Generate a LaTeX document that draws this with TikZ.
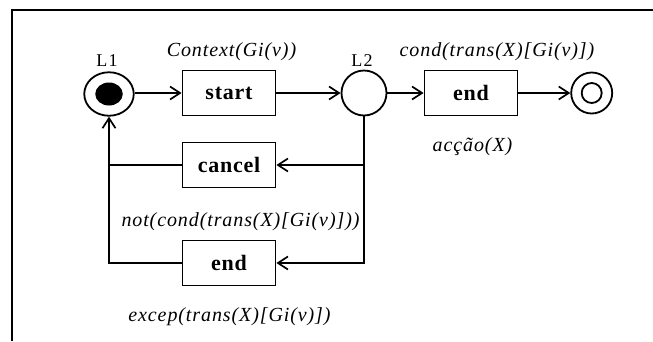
\documentclass[tikz,border=0pt]{standalone}
\usepackage{fontspec}
\setmainfont{Liberation Serif}
\newfontfamily\condfont[LetterSpace=4.5]{Liberation Serif}
\newfontfamily\boxfont[LetterSpace=3.5]{Liberation Serif}
\newfontfamily\tagfont[LetterSpace=7]{Liberation Serif}
\usetikzlibrary{arrows.meta,shapes.geometric}
\tikzset{
  base/.style={line width=1.8pt},
  flow/.style={base,-{Straight Barb[length=10pt,width=13pt,line width=1.7pt]}},
  actbox/.style={base,draw,rectangle,minimum width=93pt,minimum height=45pt,inner sep=0pt,
    font=\boxfont\fontsize{22}{25}\selectfont\bfseries},
  state/.style={base,draw,circle,inner sep=0pt},
  cond/.style={inner sep=0pt,font=\condfont\fontsize{20}{23}\selectfont\itshape},
  tag/.style={inner sep=0pt,font=\tagfont\fontsize{18}{21}\selectfont}
}
\begin{document}
\begin{tikzpicture}[x=1pt,y=-1pt]
  \useasboundingbox (0,0) rectangle (653,341);
  % outer frame (top and left edges)
  \draw[line width=2pt] (12,341) -- (12,10) -- (653,10);

  % states
  \node[base,draw,ellipse,minimum width=49.5pt,minimum height=43.5pt,inner sep=0pt] (L1) at (109,94) {};
  \node[ellipse,fill=black,minimum width=27.5pt,minimum height=23pt,inner sep=0pt] (L1dot) at (L1.center) {};
  \node[state,minimum size=45pt] (L2) at (364,93) {};
  \node[state,minimum size=41pt] (fin) at (591.7,93) {};
  \node[state,minimum size=20pt] (finin) at (fin.center) {};

  % activities
  \node[actbox] (start) at (229,93) {\raisebox{-4.5pt}{start}};
  \node[actbox] (endok) at (471,93) {\raisebox{-4.5pt}{end}};
  \node[actbox] (cancel) at (229,165) {\raisebox{-3pt}{cancel}};
  \node[actbox] (endex) at (229,263) {\raisebox{-3pt}{end}};

  % labels
  \node[tag] (t1) at (107,61) {L1};
  \node[tag] (t2) at (362,61) {L2};
  \node[cond] (cctx) at (231.5,52) {Context(Gi(v))};
  \node[cond] (ccond) at (497,51.5) {cond(trans(X)[Gi(v)])};
  \node[cond] (cact) at (472.5,147) {acção(X)};
  \node[cond] (cnot) at (240.5,222) {not(cond(trans(X)[Gi(v)]))};
  \node[cond] (cexc) at (229.5,317) {excep(trans(X)[Gi(v)])};

  % main flow
  \draw[flow] (L1.east |- start.west) -- (start.west);
  \draw[flow] (start.east) -- (L2.west);
  \draw[flow] (L2.east) -- (endok.west);
  \draw[flow] (endok.east) -- (fin.west);

  % alternative branches
  \draw[flow] (L2.south) |- (cancel.east);
  \draw[flow] (L2.south) |- (endex.east);
  \draw[base] (cancel.west) -- (cancel.west -| L1.south);
  \draw[flow] (endex.west) -| (L1.south);
\end{tikzpicture}
\end{document}
